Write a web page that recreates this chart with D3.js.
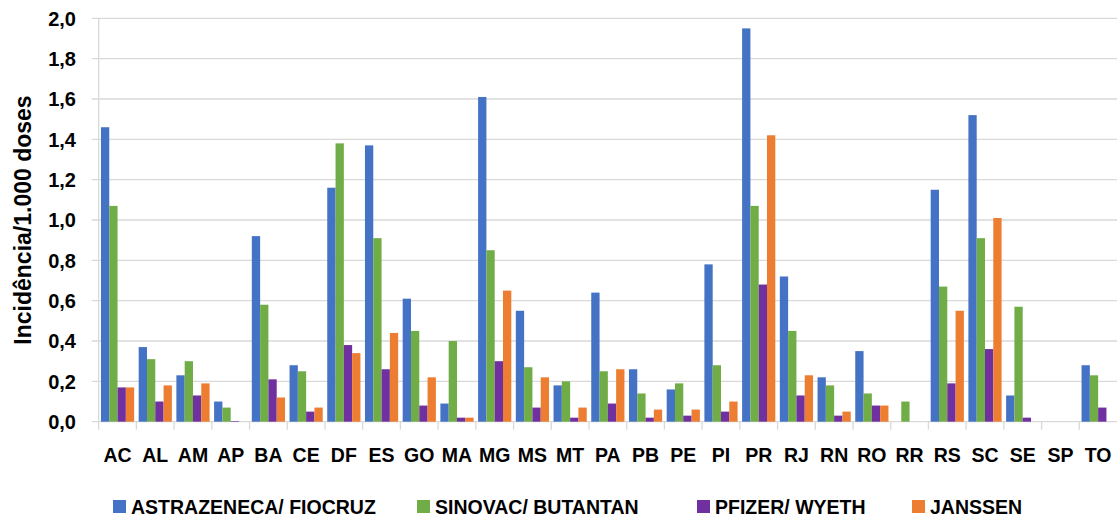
<!DOCTYPE html>
<html>
<head>
<meta charset="utf-8">
<script src="https://cdn.jsdelivr.net/npm/d3@7"></script>
<style>
  body { margin: 0; background: #fff; }
  svg text { font-family: "Liberation Sans", Arial, sans-serif; font-weight: bold; fill: #000; }
</style>
</head>
<body>
<svg id="chart" width="1117" height="520"></svg>
<script>
const states = ["AC", "AL", "AM", "AP", "BA", "CE", "DF", "ES", "GO", "MA", "MG", "MS", "MT", "PA",
  "PB", "PE", "PI", "PR", "RJ", "RN", "RO", "RR", "RS", "SC", "SE", "SP", "TO"];
const seriesNames = ["ASTRAZENECA/ FIOCRUZ", "SINOVAC/ BUTANTAN", "PFIZER/ WYETH", "JANSSEN"];
const astrazeneca = [1.46, 0.37, 0.23, 0.10, 0.92, 0.28, 1.16, 1.37, 0.61, 0.09, 1.61, 0.55, 0.18, 0.64,
  0.26, 0.16, 0.78, 1.95, 0.72, 0.22, 0.35, 0, 1.15, 1.52, 0.13, 0, 0.28];
const sinovac = [1.07, 0.31, 0.30, 0.07, 0.58, 0.25, 1.38, 0.91, 0.45, 0.40, 0.85, 0.27, 0.20, 0.25,
  0.14, 0.19, 0.28, 1.07, 0.45, 0.18, 0.14, 0.10, 0.67, 0.91, 0.57, 0, 0.23];
const pfizer = [0.17, 0.10, 0.13, 0.003, 0.21, 0.05, 0.38, 0.26, 0.08, 0.02, 0.30, 0.07, 0.02, 0.09,
  0.02, 0.03, 0.05, 0.68, 0.13, 0.03, 0.08, 0, 0.19, 0.36, 0.02, 0, 0.07];
const janssen = [0.17, 0.18, 0.19, 0, 0.12, 0.07, 0.34, 0.44, 0.22, 0.02, 0.65, 0.22, 0.07, 0.26,
  0.06, 0.06, 0.10, 1.42, 0.23, 0.05, 0.08, 0, 0.55, 1.01, 0, 0, 0];
const yTicks = [0, 0.2, 0.4, 0.6, 0.8, 1.0, 1.2, 1.4, 1.6, 1.8, 2.0];
const colors = ["#4472C4", "#70AD47", "#7030A0", "#ED7D31"];
const yTitle = "Incidência/1.000 doses";

const seriesValues = [astrazeneca, sinovac, pfizer, janssen];
const rows = states.map((s, i) => ({ state: s, values: seriesValues.map((v) => v[i]) }));

const svg = d3.select("#chart");
const plot = { left: 98.7, right: 1117, top: 18.3, bottom: 421.7 };
const gridColor = "#d9d9d9";

const x0 = d3.scaleBand().domain(states).range([plot.left, plot.right]).padding(0);
const x1 = d3.scaleBand().domain(d3.range(seriesNames.length))
  .range([x0.bandwidth() * 0.06, x0.bandwidth() * 0.94]).padding(0);
const y = d3.scaleLinear().domain([0, 2]).range([plot.bottom, plot.top]);

const fmt = (v) => v.toFixed(1).replace(".", ",");

// horizontal gridlines with small outer ticks
svg.append("g").selectAll("line")
  .data(yTicks)
  .join("line")
  .attr("x1", plot.left - 7)
  .attr("x2", plot.right)
  .attr("y1", (d) => y(d))
  .attr("y2", (d) => y(d))
  .attr("stroke", gridColor)
  .attr("stroke-width", 1.3);

// vertical axis line
svg.append("line")
  .attr("x1", plot.left).attr("x2", plot.left)
  .attr("y1", plot.top).attr("y2", plot.bottom + 8)
  .attr("stroke", gridColor).attr("stroke-width", 1.3);

// category separators below the baseline
svg.append("g").selectAll("line")
  .data(states.slice(1))
  .join("line")
  .attr("x1", (d) => x0(d))
  .attr("x2", (d) => x0(d))
  .attr("y1", plot.bottom)
  .attr("y2", plot.bottom + 8)
  .attr("stroke", gridColor)
  .attr("stroke-width", 1.3);

// y tick labels
svg.append("g").selectAll("text")
  .data(yTicks)
  .join("text")
  .attr("x", 76)
  .attr("y", (d) => y(d))
  .attr("dy", "0.36em")
  .attr("text-anchor", "end")
  .style("font-size", "20px")
  .text(fmt);

// bars
const groups = svg.append("g").selectAll("g")
  .data(rows)
  .join("g")
  .attr("transform", (d) => `translate(${x0(d.state)},0)`);

groups.selectAll("rect")
  .data((d) => d.values.map((v, i) => ({ v, i })))
  .join("rect")
  .attr("x", (d) => x1(d.i))
  .attr("width", x1.bandwidth())
  .attr("y", (d) => y(d.v))
  .attr("height", (d) => y(0) - y(d.v))
  .attr("fill", (d) => colors[d.i]);

// x labels
svg.append("g").selectAll("text")
  .data(states)
  .join("text")
  .attr("x", (d) => x0(d) + x0.bandwidth() / 2)
  .attr("y", 462)
  .attr("text-anchor", "middle")
  .style("font-size", "19.5px")
  .text((d) => d);

// y axis title
svg.append("text")
  .attr("transform", "translate(31,220) rotate(-90)")
  .attr("text-anchor", "middle")
  .style("font-size", "23px")
  .text(yTitle);

// legend
const legendX = [113, 417, 697, 912];
const legend = svg.append("g").selectAll("g")
  .data(seriesNames)
  .join("g")
  .attr("transform", (d, i) => `translate(${legendX[i]},500)`);

legend.append("rect")
  .attr("width", 13)
  .attr("height", 13)
  .attr("fill", (d, i) => colors[i]);

legend.append("text")
  .attr("x", 18)
  .attr("y", 14)
  .style("font-size", "19.5px")
  .text((d) => d);
</script>
</body>
</html>
